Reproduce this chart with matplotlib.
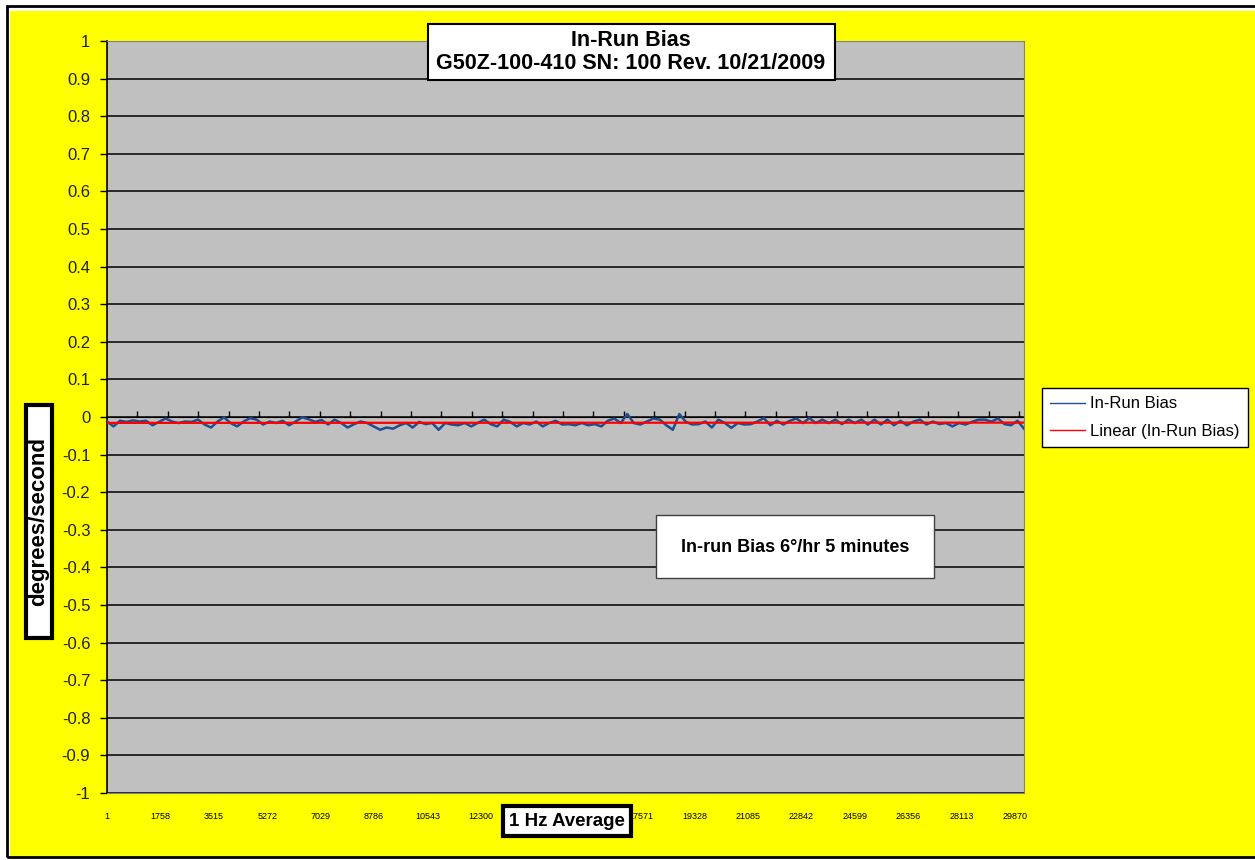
import numpy as np
import matplotlib.pyplot as plt
from matplotlib.patches import Rectangle

plt.rcParams['font.family'] = ['Liberation Sans', 'DejaVu Sans']

# in-run bias (deg/s) left to right
bias = [-0.012, -0.025, -0.010, -0.013, -0.009, -0.012, -0.010, -0.022, -0.013, -0.004,
        -0.012, -0.016, -0.012, -0.013, -0.007, -0.020, -0.028, -0.012, -0.001, -0.016,
        -0.025, -0.012, -0.003,
        -0.007, -0.020, -0.012, -0.016, -0.010, -0.022, -0.012, -0.001, -0.006, -0.013,
        -0.008, -0.020, -0.007, -0.016, -0.028, -0.019, -0.012, -0.016, -0.025, -0.034,
        -0.028, -0.031, -0.022,
        -0.016, -0.028, -0.013, -0.019, -0.016, -0.034, -0.016, -0.020, -0.022, -0.016,
        -0.025, -0.016, -0.007, -0.019, -0.025, -0.007, -0.013, -0.025, -0.016, -0.020,
        -0.012, -0.025, -0.016,
        -0.010, -0.020, -0.019, -0.022, -0.016, -0.022, -0.019, -0.025, -0.010, -0.004,
        -0.016, 0.008, -0.016, -0.020, -0.012, -0.004, -0.007, -0.022, -0.034, 0.008,
        -0.013, -0.020, -0.019, -0.012, -0.028,
        -0.007, -0.016, -0.029, -0.016, -0.020, -0.019, -0.012, -0.003, -0.022, -0.010,
        -0.020, -0.010, -0.004, -0.016, -0.003, -0.016, -0.007, -0.016, -0.007, -0.019,
        -0.007, -0.016, -0.007, -0.020,
        -0.007, -0.020, -0.007, -0.022, -0.010, -0.022, -0.012, -0.007, -0.020, -0.012,
        -0.019, -0.016, -0.025, -0.016, -0.020, -0.013, -0.007, -0.007, -0.012, -0.004,
        -0.019, -0.022, -0.010, -0.031]
n_samples = 30160
xlabels = ['1', '1758', '3515', '5272', '7029', '8786', '10543', '12300', '14057',
           '15814', '17571', '19328', '21085', '22842', '24599', '26356', '28113', '29870']
ylabels = ['-1', '-0.9', '-0.8', '-0.7', '-0.6', '-0.5', '-0.4', '-0.3', '-0.2', '-0.1',
           '0', '0.1', '0.2', '0.3', '0.4', '0.5', '0.6', '0.7', '0.8', '0.9', '1']

x = np.linspace(1, n_samples, len(bias))
fit = np.polyfit(x, bias, 1)

W, H = 1255, 860
fig = plt.figure(figsize=(12.55, 8.6), dpi=100, facecolor='white')


def px_box(x0, y0, x1, y1, lw, ec='black', z=5):
    # box given in picture pixels from top-left
    fig.patches.append(Rectangle((x0 / W, 1 - y1 / H), (x1 - x0) / W, (y1 - y0) / H,
                                 transform=fig.transFigure, facecolor='white',
                                 edgecolor=ec, lw=lw, zorder=z))


fig.patches.append(Rectangle((10 / W, 1 - 857 / H), 1, 846 / H, transform=fig.transFigure,
                             facecolor='#FFFF00', edgecolor='none', zorder=-3))
fig.patches.append(Rectangle((7 / W, 1 - 857 / H), 1, 851 / H, transform=fig.transFigure,
                             facecolor='none', edgecolor='black', lw=2, zorder=-2))

ax = fig.add_axes([107 / W, 1 - 793 / H, (1024 - 107) / W, (793 - 41) / H])
ax.set_facecolor('#C0C0C0')

l1, = ax.plot(x, bias, color='#1F4F8F', lw=1.8, zorder=3)
l2, = ax.plot(x, np.polyval(fit, x), color='#FF0000', lw=1.6, zorder=4)

ax.set_xlim(1, n_samples)
ax.set_ylim(-1, 1)
ax.set_yticks([float(s) for s in ylabels])
ax.set_yticklabels(ylabels, fontsize=12, color='#202020')
ax.yaxis.grid(True, color='black', lw=1.1)
ax.set_axisbelow(True)
ax.tick_params(axis='y', direction='out', length=5, width=1, pad=7)

ax.set_xticks([int(s) for s in xlabels])
ax.set_xticklabels(xlabels, fontsize=6.5)
ax.tick_params(axis='x', length=0, pad=14)

for s in ['top', 'right', 'bottom']:
    ax.spines[s].set_color('#808080')
ax.spines['left'].set_color('black')
ax.spines['left'].set_linewidth(1.2)

# axis line crossing at zero with its tick marks
sec = ax.secondary_xaxis(0.5)
sec.set_xticks(np.arange(1000, n_samples, 1000))
sec.set_xticklabels([])
sec.tick_params(direction='out', length=4, width=1)
sec.spines['bottom'].set_color('black')
sec.spines['bottom'].set_linewidth(1.2)

px_box(428, 24, 835, 80, 1.5)
fig.text(631 / W, 1 - 52 / H, 'In-Run Bias\nG50Z-100-410 SN: 100 Rev. 10/21/2009',
         ha='center', va='center', fontsize=15.5, fontweight='bold', linespacing=1.1,
         zorder=6)

px_box(26, 405, 52, 638, 3)
fig.text(39 / W, 1 - 521 / H, 'degrees/second', rotation=90, ha='center', va='center',
         fontsize=16, fontweight='bold', zorder=6)

px_box(503, 806, 631, 836, 3)
fig.text(567 / W, 1 - 821 / H, '1 Hz Average', ha='center', va='center',
         fontsize=13.5, fontweight='bold', zorder=6)

px_box(656, 515, 934, 578, 1, ec='#404040')
fig.text(795 / W, 1 - 547 / H, 'In-run Bias 6°/hr 5 minutes', ha='center', va='center',
         fontsize=13, fontweight='bold', zorder=6)

leg = fig.legend([l1, l2], ['In-Run Bias', 'Linear (In-Run Bias)'],
                 loc='upper left', bbox_to_anchor=(1042 / W, 1 - 388 / H),
                 fontsize=12, frameon=True, fancybox=False, edgecolor='black',
                 framealpha=1, borderaxespad=0, handlelength=2.1, handletextpad=0.3,
                 labelspacing=0.75, borderpad=0.5)
leg.get_frame().set_linewidth(1)
for h in leg.get_lines():
    h.set_linewidth(1)

fig.savefig('out.png', dpi=100, facecolor=fig.get_facecolor())
